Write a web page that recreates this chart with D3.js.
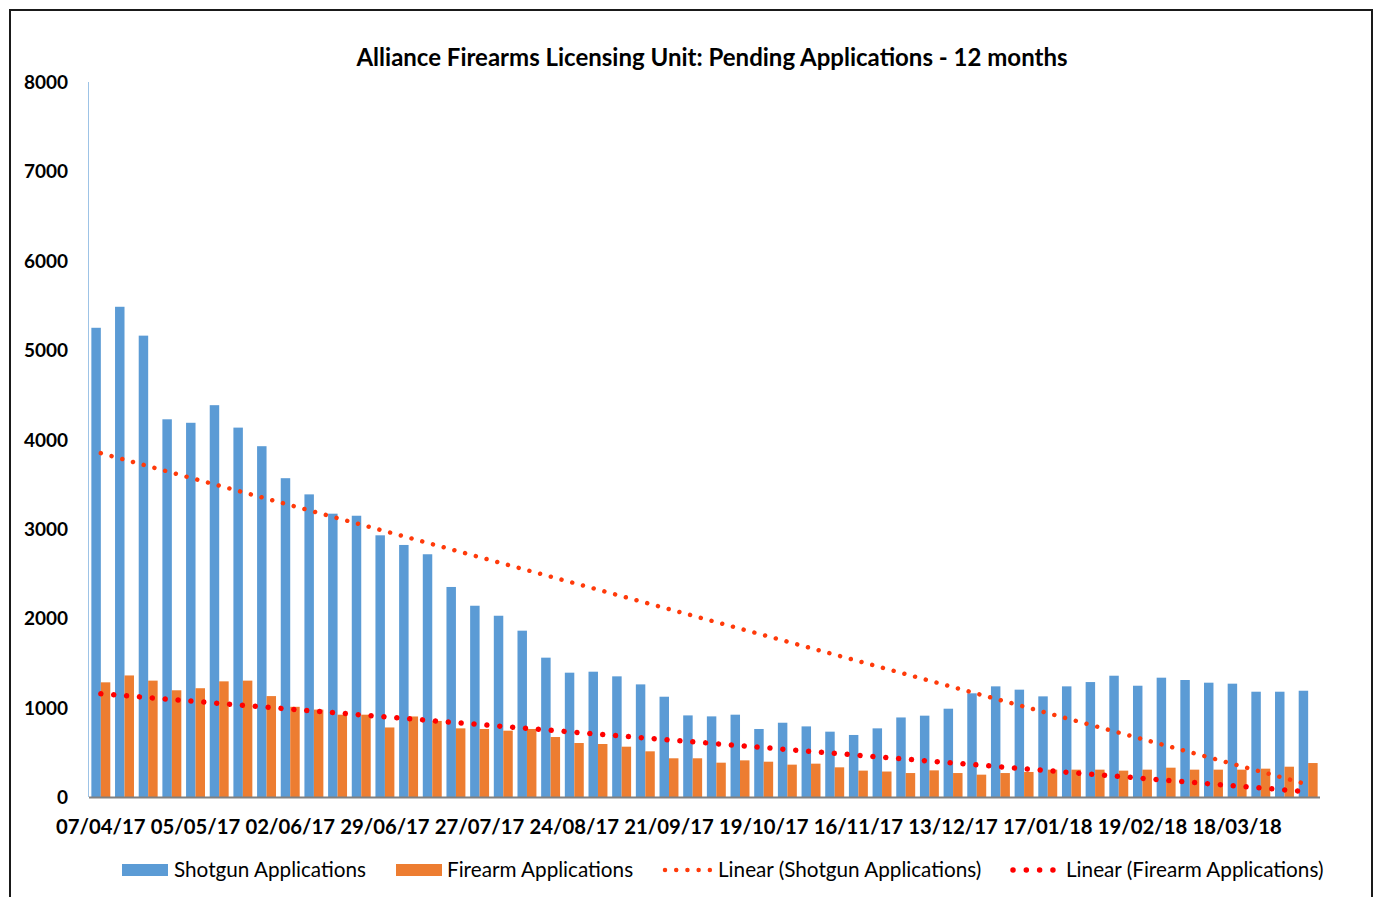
<!DOCTYPE html>
<html><head><meta charset="utf-8">
<script src="https://cdn.jsdelivr.net/npm/d3@7"></script>
<style>
body{margin:0;background:#fff}
svg{display:block}
text{font-family:Lato,"Open Sans",sans-serif}
</style>
</head><body>
<svg id="c" width="1379" height="897"></svg>
<script>
const shotgun = [5250,5485,5162,4226,4187,4384,4133,3925,3567,3386,3170,3147,2928,2820,2716,2350,2140,2028,1861,1559,1391,1402,1350,1260,1122,913,902,921,761,831,790,731,694,768,890,910,988,1160,1238,1201,1126,1238,1286,1357,1245,1335,1309,1279,1268,1178,1178,1189];
const firearm = [1283,1360,1302,1194,1217,1294,1302,1129,1009,978,921,921,778,901,851,768,761,742,761,671,604,593,563,511,433,433,384,410,395,362,373,332,295,285,268,298,268,250,268,280,306,306,306,295,306,328,306,306,306,317,339,380];
const tickLabels = ["07/04/17","05/05/17","02/06/17","29/06/17","27/07/17","24/08/17","21/09/17","19/10/17","16/11/17","13/12/17","17/01/18","19/02/18","18/03/18"];
const tickEvery = 4;
const yTicks = [0,1000,2000,3000,4000,5000,6000,7000,8000];
const seriesNames = ["Shotgun Applications","Firearm Applications"];
const trendNames = ["Linear (Shotgun Applications)","Linear (Firearm Applications)"];
const title = "Alliance Firearms Licensing Unit: Pending Applications - 12 months";

const colors = {shotgun:"#5B9BD5", firearm:"#ED7D31", tShot:"#FF3A0A", tFire:"#FF0000"};

const svg = d3.select("#c");
svg.append("rect").attr("x",10).attr("y",10).attr("width",1362).attr("height",920)
  .attr("fill","none").attr("stroke","#1a1a1a").attr("stroke-width",2);

const L=89, R=1320, T=82, B=797;
const x = d3.scaleBand().domain(d3.range(shotgun.length)).range([L,R]).padding(0);
const y = d3.scaleLinear().domain([0,8000]).range([B,T]);
const bw = x.bandwidth();
const gap = bw*0.2;
const barW = (bw-gap)/2;

// title
svg.append("text").attr("x",712).attr("y",66).attr("text-anchor","middle")
  .attr("font-size",24).attr("font-weight","bold").attr("fill","#000").text(title);

// bars
const g = svg.append("g");
g.selectAll("rect.s").data(shotgun).join("rect").attr("class","s")
  .attr("x",(d,i)=>x(i)+gap/2).attr("width",barW)
  .attr("y",d=>y(d)).attr("height",d=>B-y(d)).attr("fill",colors.shotgun);
g.selectAll("rect.f").data(firearm).join("rect").attr("class","f")
  .attr("x",(d,i)=>x(i)+gap/2+barW).attr("width",barW)
  .attr("y",d=>y(d)).attr("height",d=>B-y(d)).attr("fill",colors.firearm);

// axes
svg.append("line").attr("x1",L-0.5).attr("x2",L-0.5).attr("y1",T).attr("y2",B)
  .attr("stroke","#9DC3E6").attr("stroke-width",1);
svg.append("line").attr("x1",L).attr("x2",R).attr("y1",B+0.5).attr("y2",B+0.5)
  .attr("stroke","#808080").attr("stroke-width",2);

svg.append("g").selectAll("text").data(yTicks).join("text")
  .attr("x",68).attr("y",d=>y(d)+7).attr("text-anchor","end")
  .attr("font-size",19).attr("font-weight","bold").attr("fill","#000").text(d=>d);

svg.append("g").selectAll("text").data(tickLabels).join("text")
  .attr("x",(d,i)=>x(i*tickEvery)+bw/2).attr("y",834).attr("text-anchor","middle")
  .attr("font-size",20.3).attr("font-weight","bold").attr("fill","#000").text(d=>d);

// linear trends (least squares, as Excel trendline)
function fit(vals){
  const n=vals.length, xs=d3.range(n);
  const mx=d3.mean(xs), my=d3.mean(vals);
  let num=0, den=0;
  xs.forEach((xi,i)=>{num+=(xi-mx)*(vals[i]-my); den+=(xi-mx)*(xi-mx);});
  const b=num/den, a=my-b*mx;
  return [0,n-1].map(i=>[x(i)+bw/2, y(a+b*i)]);
}
const line = d3.line();
svg.append("path").attr("d",line(fit(shotgun))).attr("fill","none")
  .attr("stroke",colors.tShot).attr("stroke-width",4.5).attr("stroke-linecap","round")
  .attr("stroke-dasharray","0.01,11.1");
svg.append("path").attr("d",line(fit(firearm))).attr("fill","none")
  .attr("stroke",colors.tFire).attr("stroke-width",5.5).attr("stroke-linecap","round")
  .attr("stroke-dasharray","0.01,12.9");

// legend
const LY = 870, FS = 20.7;
const leg = svg.append("g");
leg.append("rect").attr("x",122).attr("y",LY-6).attr("width",46).attr("height",12).attr("fill",colors.shotgun);
leg.append("text").attr("x",174).attr("y",LY+7).attr("font-size",FS).attr("fill","#000").text(seriesNames[0]);
leg.append("rect").attr("x",396).attr("y",LY-6).attr("width",46).attr("height",12).attr("fill",colors.firearm);
leg.append("text").attr("x",447).attr("y",LY+7).attr("font-size",FS).attr("fill","#000").text(seriesNames[1]);
leg.append("line").attr("x1",665).attr("x2",710).attr("y1",LY).attr("y2",LY)
  .attr("stroke",colors.tShot).attr("stroke-width",4.5).attr("stroke-linecap","round").attr("stroke-dasharray","0.01,11.2");
leg.append("text").attr("x",718).attr("y",LY+7).attr("font-size",FS).attr("fill","#000").text(trendNames[0]);
leg.append("line").attr("x1",1013).attr("x2",1053).attr("y1",LY).attr("y2",LY)
  .attr("stroke",colors.tFire).attr("stroke-width",5.5).attr("stroke-linecap","round").attr("stroke-dasharray","0.01,13.3");
leg.append("text").attr("x",1066).attr("y",LY+7).attr("font-size",FS).attr("fill","#000").text(trendNames[1]);
</script>
</body></html>
